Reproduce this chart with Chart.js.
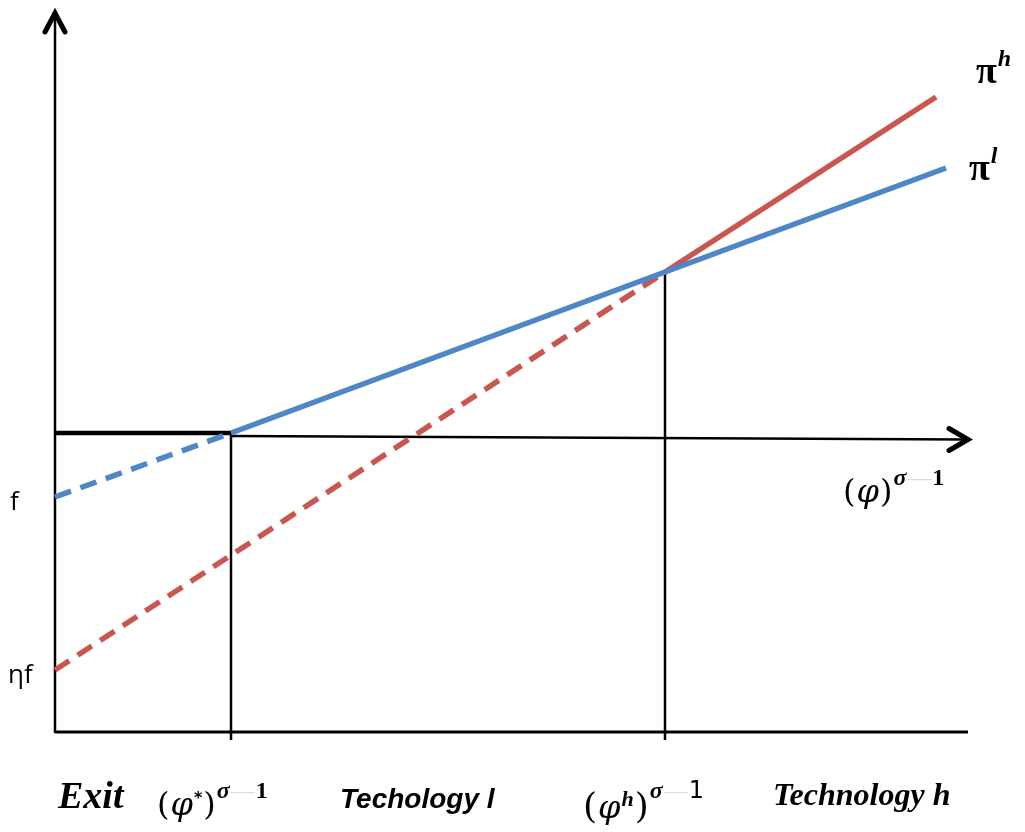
<!DOCTYPE html>
<html>
<head>
<meta charset="utf-8">
<script src="https://cdn.jsdelivr.net/npm/chart.js@4"></script>
<style>
  html, body { margin: 0; padding: 0; background: #fff; }
  #wrap { width: 1025px; height: 832px; }
</style>
</head>
<body>
<div id="wrap"><canvas id="chartPi" width="1025" height="832"></canvas></div>
<script>
// ── DATA ─────────────────────────────────────────
// x = (phi)^(sigma-1), y = profit ; units
const phiStar = 1.76;   // exit / technology l cutoff
const phiH    = 6.10;   // technology l / technology h cutoff

const piL = [[0, -0.62], [phiStar, 0.02], [phiH, 1.63], [8.91, 2.67]];
const piH = [[0, -2.35], [phiH, 1.63], [8.81, 3.38]];

// frame lines
const axisY      = [[0, -2.98], [0, 4.22]];
const axisX      = [[phiStar, -0.01], [9.12, -0.045]];
const exitBar    = [[0, 0.02], [phiStar, 0.02]];
const baseLine   = [[0, -2.97], [9.13, -2.97]];
const dropStar   = [[phiStar, 0.02], [phiStar, -3.05]];
const dropH      = [[phiH, 1.63], [phiH, -3.05]];

const BLUE = '#4f86c6';
const RED  = '#c9564f';

// ── ANNOTATIONS ─────────────────────────────────
const mathF   = 'italic 32px "DejaVu Serif"';
const parenF  = '32px "DejaVu Serif"';
const supF    = 'bold italic 24px "Liberation Serif"';
const supN    = 'bold 24px "Liberation Serif"';
const supDash = '24px "Liberation Serif"';

const sigmaMinusOne = [
  { t: 'σ', f: supF, dy: -17 },
  { t: '—', f: supDash, dy: -17, c: '#dcdcdc' },
  { t: '1', f: supN, dy: -17 }
];

const labels = [
  { x: -0.45, y: -0.75, runs: [{ t: 'f', f: '26px "Open Sans"' }] },
  { x: -0.47, y: -2.48, runs: [{ t: 'ηf', f: '26px "Open Sans"' }] },
  { x: 9.21, y: 3.52, runs: [{ t: 'π', f: 'bold 38px "Liberation Serif"' }, { t: 'h', f: 'bold italic 24px "Liberation Serif"', dy: -17 }] },
  { x: 9.14, y: 2.55, runs: [{ t: 'π', f: 'bold 38px "Liberation Serif"' }, { t: 'l', f: 'bold italic 24px "Liberation Serif"', dy: -17 }] },
  { x: 7.88, y: -0.67, runs: [{ t: '(', f: parenF }, { t: 'φ', f: mathF }, { t: ')', f: parenF }, ...sigmaMinusOne] },
  { x: 0.03, y: -3.73, runs: [{ t: 'Exit', f: 'bold italic 38px "Liberation Serif"' }] },
  { x: 1.02, y: -3.80, runs: [{ t: '(', f: parenF }, { t: 'φ', f: mathF }, { t: '*', f: 'bold 16px "DejaVu Sans"', dy: -12 }, { t: ')', f: parenF }, ...sigmaMinusOne] },
  { x: 2.85, y: -3.73, runs: [{ t: 'Techology l', f: 'bold italic 28px "Liberation Sans"' }] },
  { x: 5.28, y: -3.83, runs: [{ t: '(', f: '36px "DejaVu Serif"' }, { t: 'φ', f: mathF }, { t: 'h', f: 'bold italic 22px "Liberation Serif"', dy: -12 }, { t: ')', f: '36px "DejaVu Serif"' }, { t: 'σ', f: supF, dy: -20 }, { t: '—', f: supDash, dy: -20, c: '#dcdcdc' }, { t: '1', f: '24px "DejaVu Sans"', dy: -20 }] },
  { x: 7.18, y: -3.70, runs: [{ t: 'Technology h', f: 'bold italic 32px "Liberation Serif"' }] }
];

// arrow tips
const arrows = [
  { x: 0, y: 4.22, dir: 'up' },
  { x: 9.13, y: -0.045, dir: 'right' }
];

const toXY = arr => arr.map(p => ({ x: p[0], y: p[1] }));

const annotate = {
  id: 'annotate',
  afterDatasetsDraw(chart) {
    const { ctx, scales: { x, y } } = chart;
    ctx.save();
    // arrow heads
    ctx.strokeStyle = '#000';
    ctx.lineWidth = 5;
    ctx.lineCap = 'round';
    ctx.lineJoin = 'miter';
    arrows.forEach(a => {
      const px = x.getPixelForValue(a.x), py = y.getPixelForValue(a.y);
      ctx.beginPath();
      if (a.dir === 'up') {
        ctx.moveTo(px - 10, py + 19); ctx.lineTo(px, py); ctx.lineTo(px + 10, py + 19);
      } else {
        ctx.moveTo(px - 19, py - 11); ctx.lineTo(px, py); ctx.lineTo(px - 19, py + 11);
      }
      ctx.stroke();
    });
    // text
    ctx.textBaseline = 'alphabetic';
    labels.forEach(l => {
      let px = x.getPixelForValue(l.x);
      const py = y.getPixelForValue(l.y);
      l.runs.forEach(r => {
        ctx.font = r.f;
        ctx.fillStyle = r.c || '#000';
        ctx.fillText(r.t, px, py + (r.dy || 0));
        px += ctx.measureText(r.t).width + 1;
      });
    });
    ctx.restore();
  }
};

const frame = (data, w) => ({
  data: toXY(data), borderColor: '#000', borderWidth: w,
  pointRadius: 0, showLine: true, fill: false, order: 2
});

new Chart(document.getElementById('chartPi'), {
  type: 'scatter',
  data: {
    datasets: [
      frame(axisY, 2.5),
      frame(axisX, 2.5),
      frame(exitBar, 4.5),
      frame(baseLine, 3),
      frame(dropStar, 2.5),
      frame(dropH, 2.5),
      {
        label: 'πh', data: toXY(piH), borderColor: RED, borderWidth: 5.5,
        pointRadius: 0, showLine: true, order: 1,
        segment: { borderDash: c => c.p1.parsed.x <= phiH + 1e-6 ? [17, 10] : undefined }
      },
      {
        label: 'πl', data: toXY(piL), borderColor: BLUE, borderWidth: 5.5,
        pointRadius: 0, showLine: true, order: 0,
        segment: { borderDash: c => c.p1.parsed.x <= phiStar + 1e-6 ? [17, 10] : undefined }
      }
    ]
  },
  options: {
    responsive: false,
    animation: false,
    devicePixelRatio: 1,
    layout: { padding: 0 },
    plugins: { legend: { display: false }, tooltip: { enabled: false } },
    scales: {
      x: { type: 'linear', min: -0.55, max: 9.70, display: false },
      y: { type: 'linear', min: -3.97, max: 4.35, display: false }
    }
  },
  plugins: [annotate]
});
</script>
</body>
</html>
